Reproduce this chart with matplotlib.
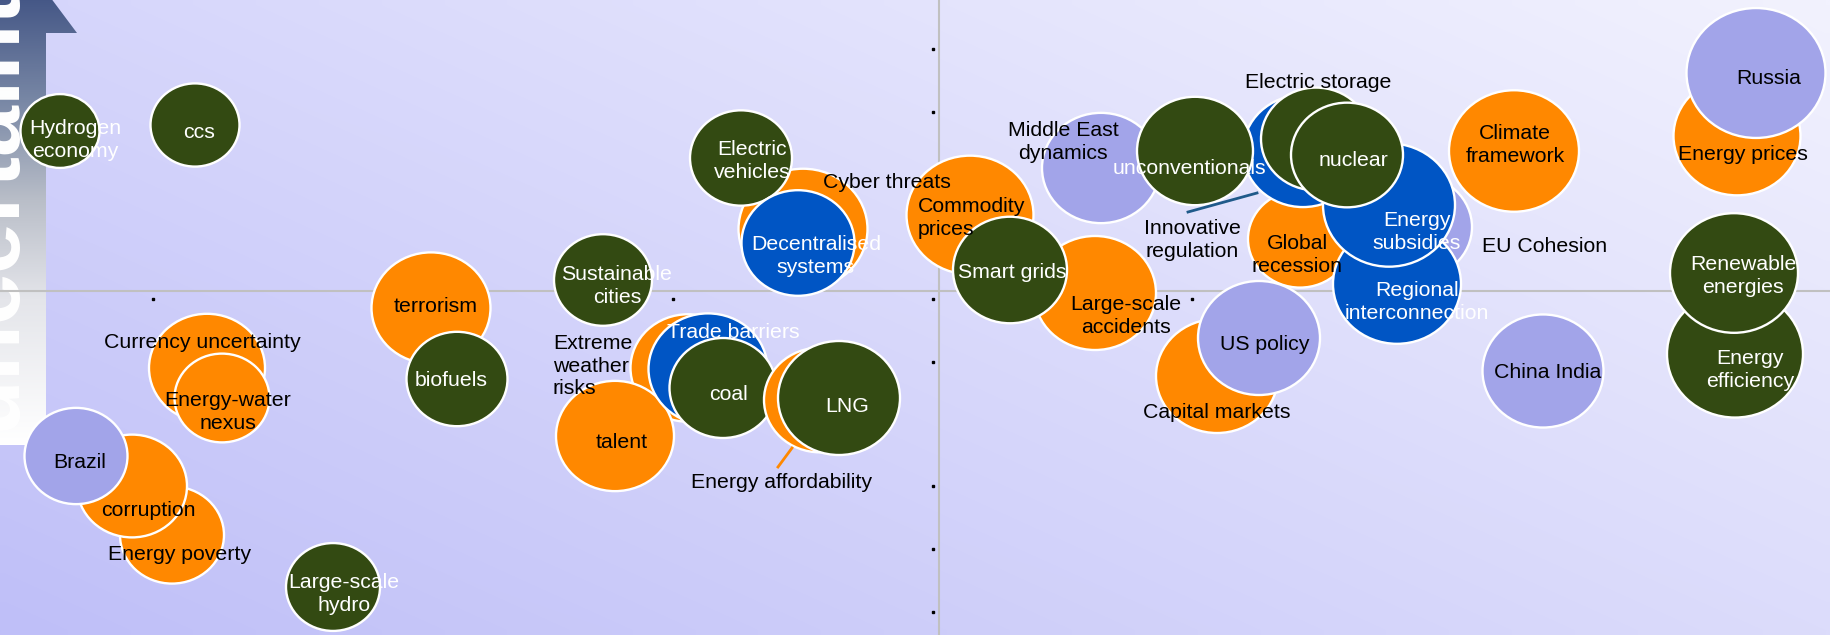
import numpy as np
import matplotlib
matplotlib.use('Agg')
import matplotlib.pyplot as plt
from matplotlib.patches import Ellipse, Polygon

# ---- bubble data (listed back to front) ----
# x: impact axis position, y: uncertainty axis position (screen scale), size: bubble diameter
names = [
    'Hydrogen\neconomy', 'ccs', 'Currency uncertainty', 'Energy-water\nnexus',
    'Energy poverty', 'corruption', 'Brazil', 'Large-scale\nhydro', 'terrorism',
    'biofuels', 'Sustainable\ncities', 'Extreme\nweather\nrisks', 'talent',
    'Trade barriers', 'coal', 'Energy affordability', 'LNG', 'Cyber threats',
    'Electric\nvehicles', 'Decentralised\nsystems', 'Commodity\nprices',
    'Large-scale\naccidents', 'Smart grids', 'Middle East\ndynamics',
    'Global\nrecession', 'Innovative\nregulation', 'unconventionals', 'EU Cohesion',
    'Regional\ninterconnection', 'Energy\nsubsidies', 'Electric storage', 'nuclear',
    'Capital markets', 'US policy', 'China India', 'Climate\nframework',
    'Energy prices', 'Russia', 'Energy\nefficiency', 'Renewable\nenergies',
]
groups = [
    'tech', 'tech', 'market', 'market',
    'market', 'market', 'geo', 'tech', 'market',
    'tech', 'tech', 'market', 'market',
    'policy', 'tech', 'market', 'tech', 'market',
    'tech', 'policy', 'market',
    'market', 'tech', 'geo',
    'market', 'policy', 'tech', 'geo',
    'policy', 'policy', 'tech', 'tech',
    'market', 'geo', 'geo', 'market',
    'market', 'geo', 'tech', 'tech',
]
x_pos = [60, 195, 207, 222, 172, 132, 76, 333, 431, 457, 603, 688, 615,
         708, 723, 820, 839, 803, 741, 798, 970, 1095, 1010, 1101,
         1300, 1303, 1195, 1417, 1397, 1389, 1316, 1347,
         1217, 1259, 1543, 1514, 1737, 1756, 1735, 1734]
y_pos = [131, 125, 368, 398, 535, 486, 456, 587, 308, 379, 280, 368, 436,
         369, 388, 400, 398, 229, 158, 243, 215, 293, 270, 168,
         239, 151, 151, 227, 284, 205, 139, 155,
         376, 338, 371, 151, 136, 73, 354, 273]
sizes = [79, 89, 116, 95, 104, 110, 103, 94, 119, 101, 98, 115, 118,
         119, 107, 112, 122, 129, 102, 113, 127, 122, 114, 118,
         104, 120, 116, 110, 128, 132, 110, 112,
         122, 122, 121, 130, 127, 139, 136, 128]

# label anchor points (where each label was placed on the slide)
label_x = [75, 199, 202, 228, 180, 148, 80, 344, 436, 451, 617, 553, 622,
           733, 729, 782, 847, 887, 752, 816, 918, 1126, 1012, 1063,
           1297, 1192, 1189, 1545, 1417, 1417, 1318, 1353,
           1217, 1265, 1548, 1515, 1743, 1769, 1750, 1743]
label_y = [140, 132, 342, 412, 555, 511, 462, 594, 307, 380, 286, 366, 443,
           333, 394, 482, 406, 182, 161, 256, 218, 316, 272, 142,
           255, 240, 168, 247, 302, 232, 82, 161,
           412, 344, 373, 145, 154, 79, 370, 276]
left_aligned = {'Extreme\nweather\nrisks', 'Commodity\nprices'}
outside_labels = {'Cyber threats', 'Innovative\nregulation', 'Electric storage',
                  'EU Cohesion', 'Extreme\nweather\nrisks', 'Currency uncertainty',
                  'Energy affordability'}
leaders = {'Innovative\nregulation': ((1188, 212), (1257, 193), '#1f5a8a'),
           'Energy affordability': ((778, 467), (792, 448), '#ff8800')}

# small placeholder dots and the quadrant lines
dot_row_x = [153, 673, 933, 1192]
dot_row_y = 299
dot_col_x = 933
dot_col_y = [49, 112, 362, 486, 549, 612]
mid_x, mid_y = 939, 291

colors = {'tech': '#334a12', 'market': '#ff8800', 'policy': '#0055c4', 'geo': '#a2a4e9'}
text_colors = {'tech': 'white', 'market': 'black', 'policy': 'white', 'geo': 'black'}

W, H = 1831, 635
fig = plt.figure(figsize=(W / 100, H / 100), dpi=100)
ax = fig.add_axes([0, 0, 1, 1])

# background gradient (lighter toward the top right)
u = np.linspace(0, 1, 183)[None, :]
v = np.linspace(1, 0, 64)[:, None]
g = (191 + 29 * u + 22 * v) / 255.0
b = (248 + 6 * (u + v) / 2) / 255.0
bg = np.dstack([g, g, np.broadcast_to(b, g.shape)])
ax.imshow(bg, extent=(0, W, H, 0), aspect='auto', interpolation='bilinear', zorder=0)

# uncertainty arrow on the left
arrow = Polygon([(-80, 445), (46, 445), (46, 33), (77, 33), (0, -70), (-77, 33),
                 (-46, 33), (-46, 445)], closed=True, facecolor='none', edgecolor='none')
ax.add_patch(arrow)
yy = np.linspace(-70, 445, 200)
stops_y = [-70, 0, 100, 200, 300, 445]
grad = np.column_stack([
    np.interp(yy, stops_y, [60, 70, 120, 185, 228, 255]),
    np.interp(yy, stops_y, [78, 88, 135, 190, 229, 255]),
    np.interp(yy, stops_y, [125, 135, 165, 200, 234, 255]),
]) / 255.0
im = ax.imshow(grad[:, None, :], extent=(-80, 80, 445, -70), aspect='auto', zorder=1)
im.set_clip_path(arrow)
ax.text(14, 430, 'uncertainty', rotation=90, rotation_mode='anchor', ha='left',
        va='baseline', fontsize=66, fontweight='bold', color='white',
        family='Liberation Sans', zorder=1.2)

# quadrant lines
ax.axhline(mid_y, color='#c0c0c0', lw=1.5, zorder=1.5)
ax.axvline(mid_x, color='#c0c0c0', lw=1.5, zorder=1.5)
ax.plot(dot_row_x, [dot_row_y] * len(dot_row_x), 's', color='black', ms=1.6, zorder=1.6)
ax.plot([dot_col_x] * len(dot_col_y), dot_col_y, 's', color='black', ms=1.6, zorder=1.6)

# bubbles
for i, name in enumerate(names):
    e = Ellipse((x_pos[i], y_pos[i]), sizes[i], sizes[i] / 1.07,
                facecolor=colors[groups[i]], edgecolor='white', lw=1.7, zorder=2 + i * 0.01)
    ax.add_patch(e)

# labels
for i, name in enumerate(names):
    tc = 'black' if name in outside_labels else text_colors[groups[i]]
    ha = 'left' if name in left_aligned else 'center'
    ax.text(label_x[i], label_y[i], name, ha=ha, va='center', multialignment=ha,
            fontsize=15.3, color=tc, family='Liberation Sans', linespacing=1.22, zorder=5)
    if name in leaders:
        p0, p1, lc = leaders[name]
        ax.plot([p0[0], p1[0]], [p0[1], p1[1]], color=lc, lw=2, zorder=4.5)

ax.set_xlim(0, W)
ax.set_ylim(H, 0)
ax.axis('off')
fig.savefig('out.png', dpi=100)
